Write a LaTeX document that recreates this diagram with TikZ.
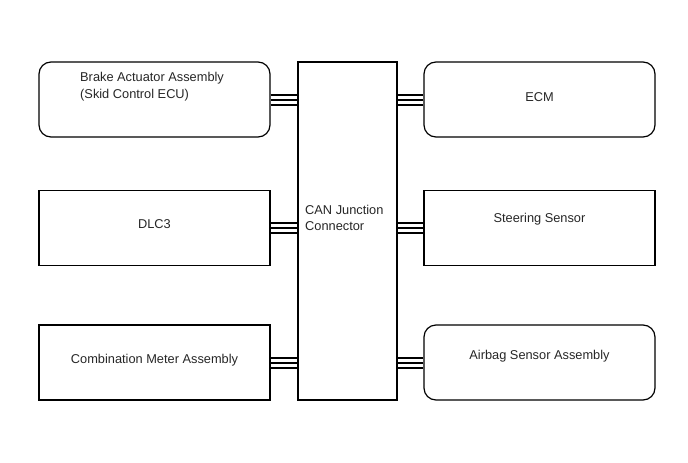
\documentclass[tikz,border=0pt]{standalone}
\usepackage{fontspec}
\setmainfont{Liberation Sans}
\usetikzlibrary{positioning}

\begin{document}
\begin{tikzpicture}[
  x=1pt, y=-1pt,
  ecu/.style={draw=black, line width=1.2pt, minimum width=231pt, minimum height=75pt, inner sep=0pt},
  roundecu/.style={ecu, rounded corners=12pt},
  hub/.style={draw=black, line width=1.2pt, minimum width=99pt, minimum height=338pt, inner sep=0pt},
  txt/.style={font=\fontsize{12.8}{16.5}\selectfont, text=black!85, align=left, inner sep=0pt},
  bus/.style={line width=2pt},
]

% Canvas
\useasboundingbox (0,0) rectangle (688,463);

% =============================================
% Junction connector
% =============================================
\node[hub] (can) at (347.5,231) {};
\node[txt, anchor=west] (cantxt) at (305,218) {CAN Junction\\Connector};

% =============================================
% Left side
% =============================================
\node[roundecu] (brake) at (154.5,99.5) {};
\node[txt, anchor=west] (braketxt) at (80,86.5) {Brake Actuator Assembly\\(Skid Control ECU)};

\node[ecu] (dlc) at (154.5,228) {};
\node[txt] (dlctxt) at (154.5,224) {DLC3};

\node[ecu] (meter) at (154.5,362.5) {};
\node[txt] (metertxt) at (154.5,360) {Combination Meter Assembly};

% =============================================
% Right side
% =============================================
\node[roundecu] (ecm) at (539.5,99.5) {};
\node[txt] (ecmtxt) at (539.5,97) {ECM};

\node[ecu] (steer) at (539.5,228) {};
\node[txt] (steertxt) at (539.5,219) {Steering Sensor};

\node[roundecu] (airbag) at (539.5,362.5) {};
\node[txt] (airbagtxt) at (539.5,356) {Airbag Sensor Assembly};

% =============================================
% Bus lines
% =============================================
\foreach \d in {-5,0,5} {
  \draw[bus] ([yshift=\d pt]brake.east) -- ([yshift=\d pt]brake.east -| can.west);
  \draw[bus] ([yshift=\d pt]dlc.east) -- ([yshift=\d pt]dlc.east -| can.west);
  \draw[bus] ([yshift=\d pt]meter.east) -- ([yshift=\d pt]meter.east -| can.west);
  \draw[bus] ([yshift=\d pt]ecm.west) -- ([yshift=\d pt]ecm.west -| can.east);
  \draw[bus] ([yshift=\d pt]steer.west) -- ([yshift=\d pt]steer.west -| can.east);
  \draw[bus] ([yshift=\d pt]airbag.west) -- ([yshift=\d pt]airbag.west -| can.east);
}

\end{tikzpicture}
\end{document}
